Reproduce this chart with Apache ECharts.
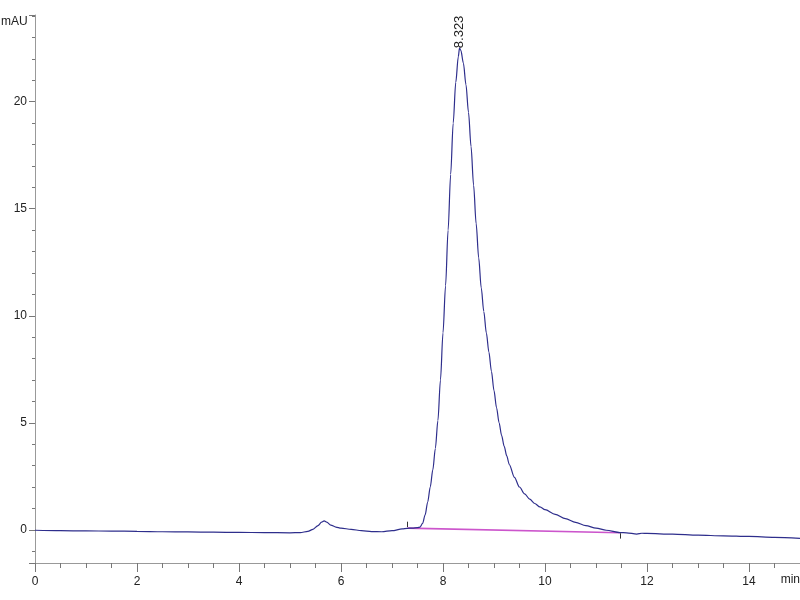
<!DOCTYPE html>
<html>
<head>
<meta charset="utf-8">
<script src="https://cdn.jsdelivr.net/npm/echarts@6/dist/echarts.min.js"></script>
<style>html,body{margin:0;padding:0;background:#fff}#c{width:800px;height:600px}</style>
</head>
<body>
<div id="c"></div>
<script>
// Retention time (min) and absorbance (mAU) of the chromatogram trace
const times = [
  0.0, 0.5, 1.0, 1.5, 2.0, 2.5, 3.0, 3.5, 4.0, 4.5, 5.0, 5.2, 5.35, 5.45, 5.55, 5.62, 5.67, 5.72, 5.8, 5.9,
  6.0, 6.2, 6.4, 6.6, 6.8, 7.0, 7.2, 7.3, 7.4, 7.5, 7.55, 7.6, 7.65, 7.7, 7.75, 7.8, 7.85, 7.9, 7.95,
  8.0, 8.05, 8.1, 8.15, 8.2, 8.25, 8.3, 8.323, 8.35, 8.4, 8.45, 8.5, 8.55, 8.6, 8.65, 8.7, 8.75, 8.8,
  8.85, 8.9, 8.95, 9.0, 9.05, 9.1, 9.15, 9.2, 9.25, 9.3, 9.4, 9.5, 9.6, 9.7, 9.8, 9.9, 10.0, 10.2,
  10.4, 10.6, 10.8, 11.0, 11.2, 11.47, 11.6, 11.8, 11.9, 12.0, 12.5, 13.0, 13.5, 14.0, 14.5, 15.0
];
const absorbance = [
  -0.02, -0.04, -0.05, -0.06, -0.07, -0.09, -0.10, -0.11, -0.12, -0.13, -0.14, -0.13, -0.07, 0.02, 0.2, 0.36, 0.42, 0.36, 0.22, 0.13,
  0.08, 0.02, -0.04, -0.08, -0.09, -0.04, 0.04, 0.07, 0.08, 0.1, 0.13, 0.3, 0.7, 1.3, 2.0, 2.8, 3.8, 5.1, 7.0,
  9.2, 11.4, 14.0, 16.6, 19.0, 20.9, 22.1, 22.5, 22.4, 21.8, 20.8, 19.5, 17.9, 16.1, 14.3, 12.7, 11.3, 10.2,
  9.2, 8.3, 7.4, 6.5, 5.7, 5.0, 4.4, 3.9, 3.45, 3.05, 2.45, 2.0, 1.68, 1.43, 1.23, 1.07, 0.94, 0.72,
  0.52, 0.35, 0.2, 0.08, -0.02, -0.13, -0.14, -0.2, -0.16, -0.17, -0.2, -0.25, -0.28, -0.31, -0.35, -0.4
];
// Integration baseline (start / end)
const baselineTimes = [7.3, 11.47];
const baselineValues = [0.08, -0.14];
// Peak annotation
const peakTime = 8.323;
const peakValue = 22.5;
const peakLabel = '8.323';
// Axis ticks and titles
const xTicks = [0, 2, 4, 6, 8, 10, 12, 14];
const yTicks = [0, 5, 10, 15, 20];
const xTitle = 'min';
const yTitle = 'mAU';

const trace = times.map((t, i) => [t, absorbance[i]]);
const baseline = baselineTimes.map((t, i) => [t, baselineValues[i]]);

const chart = echarts.init(document.getElementById('c'), null, {renderer: 'canvas'});
const font = 'Liberation Sans, Arial, sans-serif';
chart.setOption({
  animation: false,
  backgroundColor: '#fff',
  grid: {left: 35, top: 15, right: 0, bottom: 37, containLabel: false, outerBoundsMode: 'none'},
  graphic: [
    {type: 'text', left: 1, top: 16, silent: true,
      style: {text: yTitle, fill: '#222', font: '12px ' + font}},
    {type: 'text', right: 0, top: 574, silent: true,
      style: {text: xTitle, fill: '#222', font: '12px ' + font}}
  ],
  xAxis: {
    type: 'value', min: 0, max: 15, interval: 2,
    axisLine: {show: true, onZero: false, lineStyle: {color: '#999', width: 1}},
    axisTick: {show: true, length: 9, lineStyle: {color: '#777'}},
    minorTick: {show: true, splitNumber: 4, length: 5, lineStyle: {color: '#777'}},
    splitLine: {show: false},
    axisLabel: {color: '#222', fontFamily: font, fontSize: 12, margin: 13,
      showMaxLabel: false,
      formatter: v => xTicks.includes(v) ? String(v) : ''}
  },
  yAxis: {
    type: 'value', min: -1.55, max: 24.05, splitNumber: 5,
    axisLine: {show: true, onZero: false, lineStyle: {color: '#999', width: 1}},
    axisTick: {show: true, length: 6, lineStyle: {color: '#777'}},
    minorTick: {show: true, splitNumber: 5, length: 3, lineStyle: {color: '#777'}},
    splitLine: {show: false},
    axisLabel: {color: '#222', fontFamily: font, fontSize: 12, margin: 8,
      showMinLabel: false, showMaxLabel: false,
      formatter: v => yTicks.includes(v) ? String(v) : ''}
  },
  series: [
    {
      type: 'line', data: baseline, symbol: 'none', silent: true, z: 3,
      lineStyle: {color: '#cc55cc', width: 1.6},
      markLine: {
        silent: true, symbol: ['none', 'none'], label: {show: false},
        lineStyle: {color: '#333', width: 1, type: 'solid'},
        data: [
          [{coord: [baselineTimes[0], baselineValues[0] + 0.05]}, {coord: [baselineTimes[0], baselineValues[0] + 0.3]}],
          [{coord: [baselineTimes[1], baselineValues[1] - 0.02]}, {coord: [baselineTimes[1], baselineValues[1] - 0.27]}]
        ]
      }
    },
    {
      type: 'line', data: trace, symbol: 'none', z: 4,
      smooth: 0.3, smoothMonotone: 'x',
      lineStyle: {color: '#2e2e8c', width: 1.2},
      markPoint: {
        symbol: 'circle', symbolSize: 0, silent: true,
        data: [{coord: [peakTime, peakValue]}],
        label: {show: true, formatter: peakLabel, rotate: 90, position: 'top', distance: 0,
          align: 'left', verticalAlign: 'middle',
          color: '#222', fontFamily: font, fontSize: 13}
      }
    }
  ]
});
</script>
</body>
</html>
